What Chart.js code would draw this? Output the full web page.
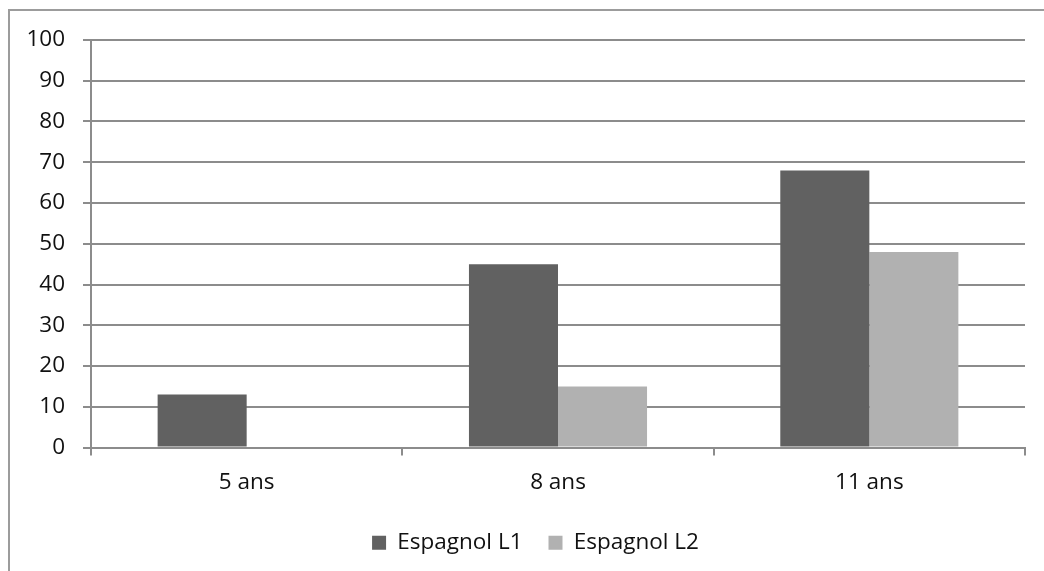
<!DOCTYPE html>
<html>
<head>
<meta charset="utf-8">
<script src="https://cdn.jsdelivr.net/npm/chart.js@4.4.1/dist/chart.umd.min.js"></script>
<style>
  html, body { margin: 0; padding: 0; background: #fff; overflow: hidden; }
  #wrap { position: relative; width: 1044px; height: 571px; }
  #frame { position: absolute; left: 8px; top: 9px; width: 1100px; height: 620px;
           border: 2px solid #9c9c9c; box-sizing: border-box; }
  canvas { position: absolute; left: 0; top: 0; }
</style>
</head>
<body>
<div id="wrap">
  <div id="frame"></div>
  <canvas id="chart" width="1044" height="571"></canvas>
</div>
<script>
// Age groups and scores for each group
const categories = ['5 ans', '8 ans', '11 ans'];
const espagnolL1 = [13, 45, 68];
const espagnolL2 = [0, 15, 48];
const seriesNames = ['Espagnol L1', 'Espagnol L2'];
const yMin = 0, yMax = 100, yStep = 10;

const FONT = '"Open Sans", Lato, sans-serif';
const GRID = '#8c8c8c';
const LEGEND_SHIFT = 23;

// Nudge the bottom legend a little to the right of the canvas centre
const legendShift = {
  id: 'legendShift',
  afterUpdate(chart) {
    const lg = chart.legend;
    if (!lg) return;
    lg.left += LEGEND_SHIFT;
    lg.right += LEGEND_SHIFT;
    if (typeof lg.adjustHitBoxes === 'function') lg.adjustHitBoxes();
  }
};

new Chart(document.getElementById('chart'), {
  type: 'bar',
  data: {
    labels: categories,
    datasets: [
      { label: seriesNames[0], data: espagnolL1, backgroundColor: '#616161' },
      { label: seriesNames[1], data: espagnolL2, backgroundColor: '#b1b1b1' }
    ]
  },
  plugins: [legendShift],
  options: {
    responsive: false,
    animation: false,
    devicePixelRatio: 1,
    layout: { padding: { left: 0, right: 19, top: 40, bottom: 7 } },
    datasets: { bar: { categoryPercentage: 0.572, barPercentage: 1.0 } },
    plugins: {
      tooltip: { enabled: false },
      legend: {
        position: 'bottom',
        labels: {
          color: '#111',
          font: { family: FONT, size: 22.5 },
          boxWidth: 14, boxHeight: 14,
          padding: 26
        }
      }
    },
    scales: {
      x: {
        grid: { offset: true, drawOnChartArea: false, drawTicks: true, tickLength: 8, color: GRID, lineWidth: 2 },
        border: { color: GRID, width: 2 },
        ticks: { color: '#111', font: { family: FONT, size: 22.5 }, padding: 14 },
        afterFit: (s) => { s.height = 58; }
      },
      y: {
        min: yMin, max: yMax,
        grid: { drawTicks: true, tickLength: 8, color: GRID, lineWidth: 2 },
        border: { color: GRID, width: 2 },
        ticks: { stepSize: yStep, color: '#111', font: { family: FONT, size: 22.5 }, padding: 18 },
        afterFit: (s) => { s.width = 91; }
      }
    }
  }
});
</script>
</body>
</html>
